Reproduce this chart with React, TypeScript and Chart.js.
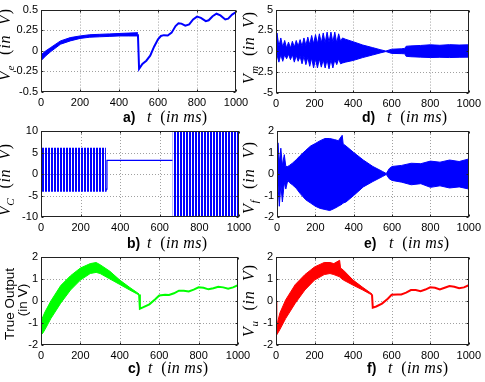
import React, { useEffect, useRef } from "react";
import { Chart, registerables } from "chart.js";
Chart.register(...registerables);

const PAGE_W = 485;
const PAGE_H = 382;

const T_MIN = 0;
const T_MAX = 1000;
const T_STEP = 200;

const BLUE = "#0000ff";
const GREEN = "#00ff00";
const RED = "#ff0000";

// ---- a) V_e ----
const aBandT = [0, 25, 50, 100, 150, 200, 250, 300, 350, 400, 450, 497];
const aBandUp = [-0.05, 0.0, 0.04, 0.12, 0.16, 0.18, 0.195, 0.2, 0.205, 0.21, 0.215, 0.22];
const aBandLo = [-0.12, -0.06, -0.01, 0.08, 0.12, 0.15, 0.165, 0.17, 0.175, 0.18, 0.18, 0.18];
const aLineT = [497, 503, 520, 540, 560, 580, 600, 615, 630, 650, 670, 690, 705, 720, 740, 760, 780, 800, 820, 845, 860, 880, 900, 920, 945, 960, 980, 1000];
const aLineV = [0.2, -0.22, -0.16, -0.12, -0.06, 0.05, 0.14, 0.18, 0.19, 0.185, 0.22, 0.3, 0.335, 0.33, 0.305, 0.32, 0.38, 0.415, 0.4, 0.36, 0.37, 0.42, 0.45, 0.43, 0.38, 0.39, 0.44, 0.47];

// ---- d) V_m (envelope of the oscillation) ----
const dT = [0, 5, 15, 25, 35, 45, 55, 65, 75, 85, 95, 105, 115, 125, 135, 145, 155, 165, 175, 185, 195, 205, 215, 225, 235, 245, 255, 265, 275, 285, 295, 305, 315, 325, 335, 345, 360, 400, 450, 500, 540, 570, 600, 650, 668, 675, 700, 750, 800, 850, 900, 950, 1000];
const dUp = [0.5, 2.2, 0.6, 1.6, 0.5, 1.3, 0.4, 1.1, 0.4, 1.2, 0.5, 1.3, 0.6, 1.4, 0.6, 1.6, 0.7, 1.7, 0.8, 1.9, 0.9, 2.0, 0.9, 2.1, 1.0, 2.2, 1.0, 2.3, 1.1, 2.3, 1.1, 2.3, 1.0, 2.1, 1.2, 1.6, 1.45, 1.15, 0.75, 0.45, 0.2, 0.03, 0.25, 0.3, 0.35, 0.6, 0.65, 0.7, 0.78, 0.72, 0.8, 0.75, 0.78];
const dLo = [-0.3, -0.4, -1.3, -0.4, -1.2, -0.4, -0.9, -0.35, -1.0, -0.4, -1.3, -0.5, -1.2, -0.6, -1.5, -0.6, -1.6, -0.7, -1.8, -0.8, -2.0, -0.9, -2.0, -0.9, -1.9, -1.0, -2.0, -1.0, -2.1, -1.0, -2.0, -1.0, -1.6, -0.9, -1.5, -1.4, -1.3, -1.1, -0.75, -0.45, -0.2, -0.03, -0.25, -0.28, -0.3, -0.6, -0.65, -0.7, -0.75, -0.72, -0.75, -0.72, -0.7];

// ---- b) V_C ----
const bBand1T = [2, 328];
const bBand1Up = [6.1, 6.1];
const bBand1Lo = [-4.1, -4.1];
const bLineT = [328, 330, 333, 664];
const bLineV = [-4.1, -3.5, 3.15, 3.15];
const bBand2T = [664, 1000];
const bBand2Up = [10, 10];
const bBand2Lo = [-10, -10];

// ---- e) V_f ----
const eT = [0, 5, 12, 20, 28, 38, 46, 56, 65, 80, 100, 120, 150, 175, 200, 225, 250, 275, 300, 320, 340, 345, 360, 400, 450, 500, 550, 570, 585, 600, 650, 700, 750, 800, 850, 900, 950, 1000];
const eUp = [1.0, 1.45, 0.5, 1.2, 0.4, 0.9, 0.35, 0.35, 0.4, 0.5, 0.66, 0.85, 1.1, 1.3, 1.42, 1.55, 1.65, 1.65, 1.6, 1.55, 1.8, 1.4, 1.3, 1.0, 0.65, 0.35, 0.12, 0.02, 0.25, 0.35, 0.4, 0.5, 0.48, 0.6, 0.55, 0.65, 0.58, 0.7];
const eLo = [-0.3, -0.5, -1.5, -0.5, -1.3, -0.4, -0.7, -0.3, -0.4, -0.5, -0.66, -0.9, -1.2, -1.35, -1.5, -1.6, -1.65, -1.7, -1.6, -1.5, -1.4, -1.35, -1.3, -1.0, -0.6, -0.35, -0.12, -0.02, -0.22, -0.3, -0.38, -0.5, -0.45, -0.62, -0.55, -0.65, -0.6, -0.7];

// ---- c) True output ----
const cBandT = [0, 10, 20, 50, 100, 150, 200, 250, 280, 300, 350, 400, 450, 498];
const cBandUp = [-0.9, -0.7, -0.5, 0.0, 0.7, 1.15, 1.5, 1.7, 1.75, 1.65, 1.35, 0.95, 0.62, 0.32];
const cBandLo = [-1.55, -1.45, -1.3, -0.8, -0.1, 0.5, 0.95, 1.25, 1.3, 1.25, 1.0, 0.75, 0.5, 0.27];
const cLineT = [498, 502, 520, 550, 580, 600, 630, 650, 675, 700, 725, 750, 775, 800, 825, 850, 875, 900, 925, 950, 975, 1000];
const cLineV = [0.3, -0.35, -0.28, -0.15, 0.08, 0.25, 0.28, 0.27, 0.35, 0.47, 0.47, 0.43, 0.52, 0.62, 0.6, 0.53, 0.58, 0.65, 0.62, 0.56, 0.62, 0.72];

// ---- f) V_u ----
const fStartT = [0, 3];
const fStartV = [0, -1.5];
const fBandT = [3, 10, 20, 50, 100, 150, 200, 250, 280, 300, 330, 335, 350, 400, 450, 498];
const fBandUp = [-1.3, -0.9, -0.55, 0.05, 0.75, 1.2, 1.55, 1.75, 1.75, 1.7, 1.85, 1.5, 1.4, 0.95, 0.62, 0.32];
const fBandLo = [-1.55, -1.45, -1.3, -0.8, -0.1, 0.5, 0.95, 1.2, 1.25, 1.2, 1.1, 1.05, 0.95, 0.72, 0.5, 0.27];
const fLineT = [498, 502, 520, 550, 580, 600, 630, 650, 675, 700, 725, 750, 775, 800, 825, 850, 875, 900, 925, 950, 975, 1000];
const fLineV = [0.3, -0.3, -0.25, -0.12, 0.1, 0.28, 0.3, 0.3, 0.38, 0.5, 0.5, 0.45, 0.52, 0.62, 0.6, 0.52, 0.6, 0.68, 0.65, 0.58, 0.62, 0.72];

// ---------------------------------------------------------------
const SERIF = "'Liberation Serif', 'DejaVu Serif', serif";
const SANS = "'Liberation Sans', Arial, sans-serif";
const TICK_FONT = { family: SANS, size: 11 };

type Part = { t: string; f: string; dy?: number };
const it = (t: string, s = 16): Part => ({ t, f: `italic ${s}px ${SERIF}` });
const rm = (t: string, s = 16): Part => ({ t, f: `${s}px ${SERIF}` });
const sub = (t: string): Part => ({ t, f: `italic 11px ${SERIF}`, dy: 4 });
const vLabel = (s: string): Part[] => [it("V"), sub(s), rm("  ("), it("in"), it("  V"), rm(")")];
const tLabel: Part[] = [it("t"), rm("  ("), it("in"), it(" ms"), rm(")")];

type YTitle = { parts: Part[]; bx: number; cy: number; target?: number };
type Panel = {
  id: string;
  plot: [number, number, number, number];
  y: [number, number, number];
  yTitles: YTitle[];
  letter: string;
  lx: number;
  tx: number;
  by: number;
  build: (ctx: CanvasRenderingContext2D) => any[];
};

const pts = (T: number[], V: number[]) => T.map((x, i) => ({ x, y: V[i] }));

function band(T: number[], up: number[], lo: number[], color: string, fillStyle: any, bw = 1) {
  const border = bw > 0 ? color : "rgba(0,0,0,0)";
  return [
    { data: pts(T, up), borderColor: border, borderWidth: Math.max(bw, 1), pointRadius: 0, fill: "+1", backgroundColor: fillStyle, tension: 0 },
    { data: pts(T, lo), borderColor: border, borderWidth: Math.max(bw, 1), pointRadius: 0, fill: false, tension: 0 },
  ];
}
function line(T: number[], V: number[], color: string, w: number) {
  return { data: pts(T, V), borderColor: color, borderWidth: w, pointRadius: 0, fill: false, tension: 0 };
}
function stripes(ctx: CanvasRenderingContext2D, seq: string, color: string) {
  const c = document.createElement("canvas");
  c.width = seq.length;
  c.height = 1;
  const g = c.getContext("2d")!;
  g.fillStyle = color;
  for (let i = 0; i < seq.length; i++) if (seq[i] === "B") g.fillRect(i, 0, 1, 1);
  return ctx.createPattern(c, "repeat");
}

const PANELS: Panel[] = [
  {
    id: "a", plot: [41, 7, 236, 92], y: [-0.5, 0.5, 0.25],
    yTitles: [{ parts: vLabel("e"), bx: 10, cy: 45, target: 72 }],
    letter: "a)", lx: 123, tx: 147, by: 122,
    build: () => [...band(aBandT, aBandUp, aBandLo, BLUE, BLUE), line(aLineT, aLineV, BLUE, 2)],
  },
  {
    id: "d", plot: [276, 7, 473, 93], y: [-5, 5, 2.5],
    yTitles: [{ parts: vLabel("m"), bx: 254, cy: 48, target: 72 }],
    letter: "d)", lx: 362, tx: 387, by: 122,
    build: () => [...band(dT, dUp, dLo, BLUE, BLUE)],
  },
  {
    id: "b", plot: [41, 131, 239, 217], y: [-10, 10, 5],
    yTitles: [{ parts: vLabel("C"), bx: 10, cy: 180, target: 72 }],
    letter: "b)", lx: 127, tx: 147, by: 248,
    build: (ctx) => [
      ...band(bBand1T, bBand1Up, bBand1Lo, BLUE, stripes(ctx, "BBW", BLUE), 0),
      line(bLineT, bLineV, BLUE, 1.2),
      ...band(bBand2T, bBand2Up, bBand2Lo, BLUE, stripes(ctx, "BBW", BLUE), 0),
    ],
  },
  {
    id: "e", plot: [277, 131, 473, 217], y: [-2, 2, 1],
    yTitles: [{ parts: vLabel("f"), bx: 254, cy: 178, target: 72 }],
    letter: "e)", lx: 364, tx: 389, by: 248,
    build: () => [...band(eT, eUp, eLo, BLUE, BLUE)],
  },
  {
    id: "c", plot: [41, 257, 238, 345], y: [-2, 2, 1],
    yTitles: [
      { parts: [{ t: "True Output", f: `13.5px ${SANS}` }], bx: 14, cy: 304 },
      { parts: [{ t: "(in V)", f: `13.5px ${SANS}` }], bx: 27, cy: 300 },
    ],
    letter: "c)", lx: 128, tx: 148, by: 373,
    build: () => [...band(cBandT, cBandUp, cBandLo, GREEN, GREEN), line(cLineT, cLineV, GREEN, 2)],
  },
  {
    id: "f", plot: [276, 257, 473, 345], y: [-2, 2, 1],
    yTitles: [{ parts: vLabel("u"), bx: 254, cy: 301, target: 72 }],
    letter: "f)", lx: 367, tx: 388, by: 373,
    build: () => [
      line(fStartT, fStartV, RED, 1.5),
      ...band(fBandT, fBandUp, fBandLo, RED, RED),
      line(fLineT, fLineV, RED, 2),
    ],
  },
];

function drawParts(ctx: CanvasRenderingContext2D, parts: Part[], x: number, y: number, align: "center" | "left", target?: number) {
  const chars: { c: string; f: string; dy: number; w: number }[] = [];
  parts.forEach((p) => {
    ctx.font = p.f;
    for (const c of p.t) chars.push({ c, f: p.f, dy: p.dy || 0, w: ctx.measureText(c).width });
  });
  const nat = chars.reduce((s, c) => s + c.w, 0);
  const extra = target && chars.length > 1 ? Math.max(0, (target - nat) / (chars.length - 1)) : 0;
  const total = nat + extra * (chars.length - 1);
  let cx = align === "center" ? x - total / 2 : x;
  ctx.textAlign = "left";
  ctx.textBaseline = "alphabetic";
  chars.forEach((ch) => {
    ctx.font = ch.f;
    ctx.fillText(ch.c, cx, y + ch.dy);
    cx += ch.w + extra;
  });
}

function deco(p: Panel) {
  return {
    id: "deco_" + p.id,
    beforeDatasetsDraw(chart: any) {
      const { ctx, chartArea: ca } = chart;
      const xs = chart.scales.x;
      const ys = chart.scales.y;
      ctx.save();
      ctx.strokeStyle = "#a0a0a0";
      ctx.lineWidth = 1;
      ctx.setLineDash([1, 2]);
      ctx.beginPath();
      xs.ticks.forEach((t: any) => {
        if (t.value <= xs.min || t.value >= xs.max) return;
        const px = Math.round(xs.getPixelForValue(t.value)) + 0.5;
        ctx.moveTo(px, ca.top);
        ctx.lineTo(px, ca.bottom);
      });
      ys.ticks.forEach((t: any) => {
        if (t.value <= ys.min || t.value >= ys.max) return;
        const py = Math.round(ys.getPixelForValue(t.value)) + 0.5;
        ctx.moveTo(ca.left, py);
        ctx.lineTo(ca.right, py);
      });
      ctx.stroke();
      ctx.restore();
    },
    afterDraw(chart: any) {
      const { ctx, chartArea: ca } = chart;
      const xs = chart.scales.x;
      const ys = chart.scales.y;
      const l = Math.round(ca.left) + 0.5;
      const r = Math.round(ca.right) - 0.5;
      const t = Math.round(ca.top) + 0.5;
      const b = Math.round(ca.bottom) - 0.5;
      ctx.save();
      ctx.strokeStyle = "#222";
      ctx.lineWidth = 1;
      ctx.strokeRect(l, t, r - l, b - t);
      ctx.beginPath();
      const TL = 2;
      xs.ticks.forEach((tk: any) => {
        const px = Math.round(xs.getPixelForValue(tk.value)) + 0.5;
        ctx.moveTo(px, b); ctx.lineTo(px, b - TL);
        ctx.moveTo(px, t); ctx.lineTo(px, t + TL);
      });
      ys.ticks.forEach((tk: any) => {
        const py = Math.round(ys.getPixelForValue(tk.value)) + 0.5;
        ctx.moveTo(l, py); ctx.lineTo(l + TL, py);
        ctx.moveTo(r, py); ctx.lineTo(r - TL, py);
      });
      ctx.stroke();

      ctx.fillStyle = "#000";
      p.yTitles.forEach((yt) => {
        ctx.save();
        ctx.translate(yt.bx, yt.cy);
        ctx.rotate(-Math.PI / 2);
        drawParts(ctx, yt.parts, 0, 0, "center", yt.target);
        ctx.restore();
      });
      drawParts(ctx, [{ t: p.letter, f: `bold 14px ${SANS}` }], p.lx, p.by, "left");
      drawParts(ctx, tLabel, p.tx, p.by, "left", 60);
      ctx.restore();
    },
  };
}

const fmt = (v: any) => String(Math.round(Number(v) * 1000) / 1000);

function makeConfig(p: Panel, ctx: CanvasRenderingContext2D): any {
  const [L, T, R, B] = p.plot;
  const YW = 36;
  const XH = 22;
  return {
    type: "line",
    data: { datasets: p.build(ctx) },
    options: {
      animation: false,
      responsive: false,
      events: [],
      layout: { padding: { left: L - YW, top: T, right: PAGE_W - R, bottom: PAGE_H - B - XH } },
      plugins: { legend: { display: false }, tooltip: { enabled: false } },
      scales: {
        x: {
          type: "linear", min: T_MIN, max: T_MAX,
          ticks: { stepSize: T_STEP, autoSkip: false, maxRotation: 0, font: TICK_FONT, color: "#000", padding: 4, callback: fmt },
          grid: { display: false, drawTicks: false, tickLength: 0 }, border: { display: false },
          afterFit: (s: any) => { s.height = XH; },
        },
        y: {
          type: "linear", min: p.y[0], max: p.y[1],
          ticks: { stepSize: p.y[2], autoSkip: false, font: TICK_FONT, color: "#000", padding: 3, callback: fmt },
          grid: { display: false, drawTicks: false, tickLength: 0 }, border: { display: false },
          afterFit: (s: any) => { s.width = YW; },
        },
      },
    },
    plugins: [deco(p)],
  };
}

export default function App() {
  const refs = useRef<(HTMLCanvasElement | null)[]>([]);
  useEffect(() => {
    const charts = PANELS.map((p, i) => {
      const cv = refs.current[i]!;
      const ctx = cv.getContext("2d")!;
      return new Chart(cv, makeConfig(p, ctx));
    });
    return () => charts.forEach((c) => c.destroy());
  }, []);
  return (
    <div style={{ position: "absolute", left: 0, top: 0, width: PAGE_W, height: PAGE_H, background: "#fff", overflow: "hidden" }}>
      {PANELS.map((p, i) => (
        <canvas
          key={p.id}
          ref={(el) => { refs.current[i] = el; }}
          width={PAGE_W}
          height={PAGE_H}
          style={{ position: "absolute", left: 0, top: 0 }}
        />
      ))}
    </div>
  );
}
